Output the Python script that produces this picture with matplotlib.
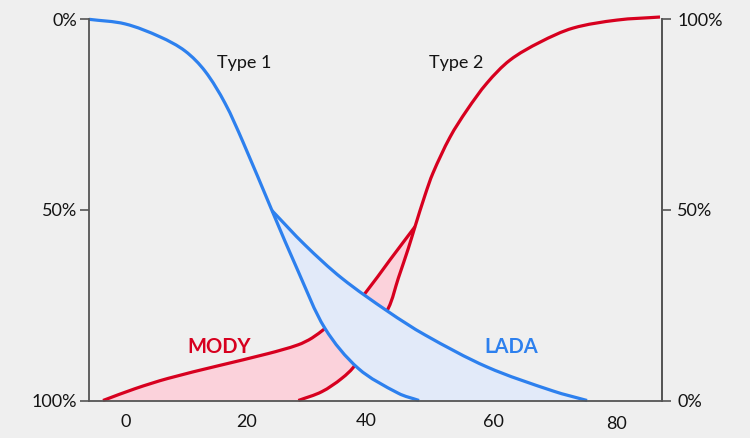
import matplotlib
matplotlib.use("Agg")
import matplotlib.pyplot as plt
import numpy as np
from matplotlib.path import Path
from matplotlib.patches import PathPatch
from matplotlib.transforms import ScaledTranslation

plt.rcParams['font.family'] = ['Lato', 'DejaVu Sans']

# ---- data: age at onset (years) vs cumulative share (%) ----
type1_age = [-6.04, -0.16, 5.55, 9.63, 12.90, 16.16, 19.10, 23.84, 28.13, 32.49, 37.93, 44.46, 47.84]
type1_pct = [100.0, 98.8, 95.4, 91.7, 86.4, 78.0, 67.8, 49.8, 33.8, 18.9, 8.4, 1.9, 0.0]

lada_age = [23.84, 29.22, 35.22, 42.82, 48.82, 58.94, 69.71, 75.27]
lada_pct = [49.8, 40.8, 32.1, 23.3, 17.2, 8.8, 2.5, 0.0]

mody_age = [-3.76, 1.47, 6.86, 15.02, 23.18, 28.08, 30.37, 32.49, 36.57, 39.02, 43.10, 47.18]
mody_pct = [0.0, 3.1, 5.8, 9.1, 12.3, 14.6, 16.4, 18.9, 23.7, 28.1, 36.9, 45.6]

type2_age = [28.13, 31.95, 35.22, 37.39, 42.82, 44.46, 46.09, 47.18, 48.82, 50.12,
             52.90, 55.67, 58.94, 62.69, 67.59, 72.98, 80.16, 87.18]
type2_pct = [0.0, 2.3, 5.8, 9.3, 24.2, 32.1, 39.9, 45.6, 53.9, 59.7,
             69.1, 76.2, 83.3, 89.3, 94.0, 97.7, 99.8, 100.6]

x_ticks = [0, 20, 40, 60, 80]
x_tick_labels = ['0', '20', '40', '60', '80']
y_ticks = [0, 50, 100]
left_labels = ['100%', '50%', '0%']
right_labels = ['0%', '50%', '100%']

BG = '#efefef'
RED = '#d7001f'
BLUE = '#2d80ee'
PINK = '#fbd2db'
LIGHTBLUE = '#e2eaf9'
AXC = '#555555'
TXT = '#141414'

fig = plt.figure(figsize=(7.5, 4.38), dpi=100, facecolor=BG)
ax = fig.add_axes([0.1187, 0.0856, 0.7640, 0.8703])
ax.set_facecolor(BG)
ax.set_xlim(-6.04, 87.51)
ax.set_ylim(0, 100)


def smooth_segments(xs, ys):
    """Cubic Bezier segments of a smooth curve through the points (chord-length Catmull-Rom)."""
    P = np.column_stack([xs, ys]).astype(float)
    D = ax.transData.transform(P)          # measure spacing on screen
    t = np.concatenate([[0], np.cumsum(np.hypot(*np.diff(D, axis=0).T))])
    n = len(P)
    M = np.zeros_like(P)
    for i in range(n):
        a, b = max(i - 1, 0), min(i + 1, n - 1)
        M[i] = (P[b] - P[a]) / (t[b] - t[a])
    segs = []
    for i in range(n - 1):
        h = t[i + 1] - t[i]
        segs.append((P[i], P[i] + M[i] * h / 3, P[i + 1] - M[i + 1] * h / 3, P[i + 1]))
    return segs


def rev(segs):
    return [(s[3], s[2], s[1], s[0]) for s in reversed(segs)]


def chain_path(chains, close=False):
    verts, codes = [], []
    for k, segs in enumerate(chains):
        verts.append(segs[0][0])
        codes.append(Path.MOVETO if k == 0 else Path.LINETO)
        for s in segs:
            verts += [s[1], s[2], s[3]]
            codes += [Path.CURVE4] * 3
    if close:
        verts.append(verts[0])
        codes.append(Path.CLOSEPOLY)
    return Path(np.array(verts), codes)


t1 = smooth_segments(type1_age, type1_pct)
la = smooth_segments(lada_age, lada_pct)
mo = smooth_segments(mody_age, mody_pct)
t2 = smooth_segments(type2_age, type2_pct)

# pink region between MODY and lower part of Type 2
k2 = type2_age.index(mody_age[-1])
ax.add_patch(PathPatch(chain_path([mo, rev(t2[:k2])], close=True),
                       facecolor=PINK, edgecolor='none', zorder=1))

lw = 2.3
for segs in (mo, t2):
    ax.add_patch(PathPatch(chain_path([segs]), facecolor='none', edgecolor=RED, lw=lw,
                           capstyle='butt', joinstyle='round', zorder=2, clip_on=False))

# light blue region between LADA and lower part of Type 1
k1 = type1_age.index(lada_age[0])
ax.add_patch(PathPatch(chain_path([la, rev(t1[k1:])], close=True),
                       facecolor=LIGHTBLUE, edgecolor='none', zorder=3))

for segs in (t1, la):
    ax.add_patch(PathPatch(chain_path([segs]), facecolor='none', edgecolor=BLUE, lw=lw,
                           capstyle='butt', joinstyle='round', zorder=4, clip_on=False))

# axes styling
ax.spines['top'].set_visible(False)
for s in ['left', 'right', 'bottom']:
    ax.spines[s].set_color(AXC)
    ax.spines[s].set_linewidth(1.3)
    ax.spines[s].set_zorder(5)

ax.set_xticks(x_ticks)
ax.set_xticklabels(x_tick_labels)
ax.tick_params(axis='x', length=0, pad=9.5, labelsize=13, labelcolor=TXT)
ax.set_yticks(y_ticks)
ax.set_yticklabels(left_labels)
ax.tick_params(axis='y', direction='out', length=6.8, width=1.2, color=AXC,
               pad=2, labelsize=13, labelcolor=TXT)

# small hand-drawn offsets of x labels
offsets = {1: (-2, 0), 2: (-5, 1), 4: (0, -2)}
for i, lab in enumerate(ax.get_xticklabels()):
    if i in offsets:
        dx, dy = offsets[i]
        lab.set_transform(lab.get_transform() + ScaledTranslation(dx / 100, dy / 100, fig.dpi_scale_trans))

ax2 = ax.twinx()
ax2.set_ylim(0, 100)
for s in ['top', 'left', 'bottom']:
    ax2.spines[s].set_visible(False)
ax2.spines['right'].set_color(AXC)
ax2.spines['right'].set_linewidth(1.3)
ax2.set_yticks(y_ticks)
ax2.set_yticklabels(right_labels)
ax2.tick_params(axis='y', direction='out', length=6.8, width=1.2, color=AXC,
                pad=4.3, labelsize=13, labelcolor=TXT)

# curve labels
ax.text(19.27, 88.5, 'Type 1', ha='center', va='center', fontsize=13, color=TXT, zorder=6)
ax.text(53.88, 88.5, 'Type 2', ha='center', va='center', fontsize=13, color=TXT, zorder=6)
ax.text(15.18, 14.0, 'MODY', ha='center', va='center', fontsize=14.5, fontweight='bold', color=RED, zorder=6)
ax.text(62.86, 14.0, 'LADA', ha='center', va='center', fontsize=14.5, fontweight='bold', color=BLUE, zorder=6)

fig.savefig('out.png', dpi=100, facecolor=BG)
